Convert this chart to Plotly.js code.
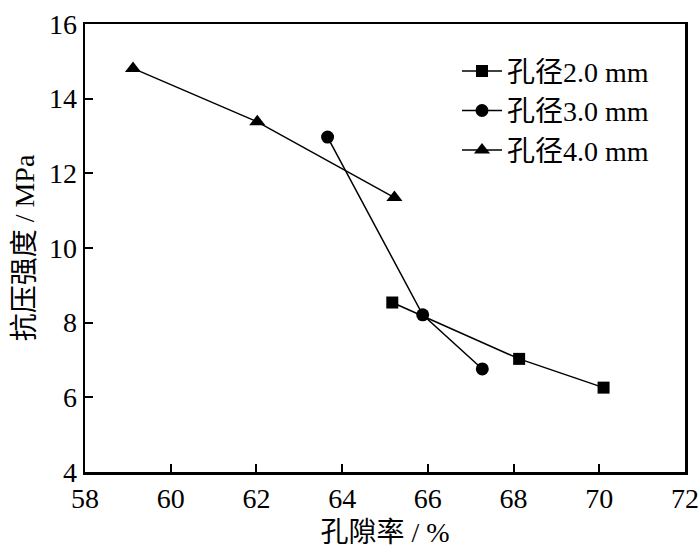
<!DOCTYPE html>
<html>
<head>
<meta charset="utf-8">
<script src="https://cdn.plot.ly/plotly-3.0.1.min.js"></script>
<style>html,body{margin:0;padding:0;background:#fff;}#chart{width:700px;height:552px;}</style>
</head>
<body>
<div id="chart"></div>
<script>
const seriesNames = ['孔径2.0 mm', '孔径3.0 mm', '孔径4.0 mm'];
const x2 = [65.17, 68.13, 70.1];
const y2 = [8.54, 7.03, 6.26];
const x3 = [63.66, 65.88, 67.27];
const y3 = [12.97, 8.21, 6.76];
const x4 = [59.12, 62.02, 65.22];
const y4 = [14.81, 13.38, 11.35];
const xTicks = [58, 60, 62, 64, 66, 68, 70, 72];
const yTicks = [4, 6, 8, 10, 12, 14, 16];

const FONT = '"Liberation Serif", "Times New Roman", "Noto Sans CJK SC", serif';
const symbols = ['square', 'circle', 'triangle-up'];
const sizes = [12, 13, 14];
const xs = [x2, x3, x4], ys = [y2, y3, y4];

const traces = seriesNames.map((n, i) => ({
  type: 'scatter', mode: 'lines+markers', name: n,
  x: xs[i], y: ys[i],
  line: {color: '#000', width: 1.5},
  marker: {symbol: symbols[i], size: sizes[i], color: '#000'}
}));

const axisCommon = {
  showgrid: false, zeroline: false, showline: true, linecolor: '#000', linewidth: 2.5,
  mirror: true, ticks: 'inside', ticklen: 8, tickwidth: 2, tickcolor: '#000',
  tickfont: {family: FONT, size: 28, color: '#000'}
};

const layout = {
  width: 700, height: 552,
  margin: {l: 85, r: 15, t: 24, b: 80},
  paper_bgcolor: '#fff', plot_bgcolor: '#fff',
  showlegend: true,
  legend: {x: 0.62, y: 0.95, xanchor: 'left', yanchor: 'top', bgcolor: 'rgba(0,0,0,0)',
    font: {family: FONT, size: 28, color: '#000'}, tracegroupgap: 0, itemwidth: 40},
  xaxis: Object.assign({}, axisCommon, {range: [58, 72], tickvals: xTicks, ticktext: xTicks.map(String),
    title: {text: '孔隙率 / %', font: {family: FONT, size: 28, color: '#000'}, standoff: 10}}),
  yaxis: Object.assign({}, axisCommon, {range: [4, 16], tickvals: yTicks, ticktext: yTicks.map(String),
    title: {text: '抗压强度 / MPa', font: {family: FONT, size: 28, color: '#000'}, standoff: 6}})
};

Plotly.newPlot('chart', traces, layout, {displayModeBar: false, staticPlot: true});
</script>
</body>
</html>
